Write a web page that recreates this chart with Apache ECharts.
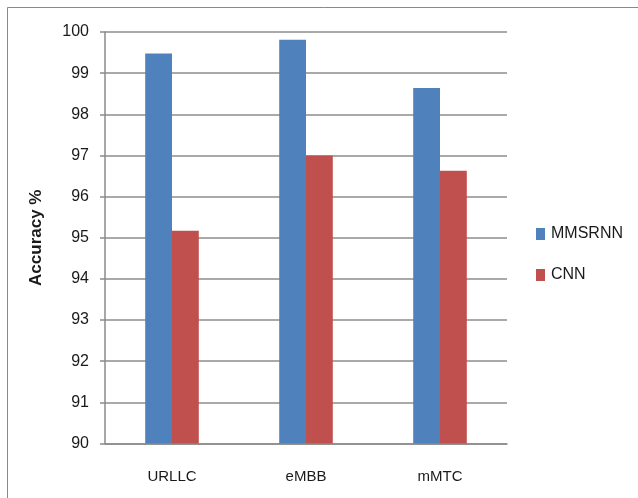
<!DOCTYPE html>
<html>
<head>
<meta charset="utf-8">
<script src="https://cdn.jsdelivr.net/npm/echarts@6/dist/echarts.min.js"></script>
<style>
  html, body { margin: 0; padding: 0; background: #fff; }
  #chart { width: 638px; height: 498px; }
</style>
</head>
<body>
<div id="chart"></div>
<script>
// Slice types and classification accuracy (%) for each model
const categories = ['URLLC', 'eMBB', 'mMTC'];
const mmsrnnAccuracy = [99.48, 99.81, 98.64];
const cnnAccuracy = [95.17, 97.0, 96.63];
const seriesNames = ['MMSRNN', 'CNN'];

const chart = echarts.init(document.getElementById('chart'));
const labelFont = '"Liberation Sans Narrow", "Liberation Sans", sans-serif';

chart.setOption({
  animation: false,
  backgroundColor: '#ffffff',
  color: ['#4F81BD', '#C0504D'],
  graphic: [{
    type: 'rect',
    left: 5, top: 5,
    shape: { width: 640, height: 500 },
    style: { fill: 'none', stroke: '#8a8a8a', lineWidth: 1 }
  }],
  grid: { left: 105, right: 131, top: 32, bottom: 54.5 },
  legend: {
    data: seriesNames,
    orient: 'vertical',
    left: 531, top: 221,
    itemWidth: 9, itemHeight: 12,
    itemGap: 25,
    icon: 'rect',
    textStyle: { fontFamily: labelFont, fontSize: 16, color: '#1a1a1a', padding: [0, 0, 0, 1] }
  },
  xAxis: {
    type: 'category',
    data: categories,
    axisLine: { lineStyle: { color: '#8a8a8a', width: 1.5 } },
    axisTick: { show: false },
    axisLabel: { fontFamily: labelFont, fontSize: 15, color: '#1a1a1a', margin: 26 }
  },
  yAxis: {
    type: 'value',
    min: 90, max: 100, interval: 1,
    name: 'Accuracy %',
    nameLocation: 'middle',
    nameGap: 60,
    nameTextStyle: { fontFamily: '"Liberation Sans", sans-serif', fontSize: 17, fontWeight: 'bold', color: '#1a1a1a' },
    axisLine: { show: true, lineStyle: { color: '#8a8a8a', width: 1.5 } },
    axisTick: { show: true, length: 5, lineStyle: { color: '#8a8a8a', width: 1.5 } },
    splitLine: { lineStyle: { color: '#8c8c8c', width: 1.5 } },
    axisLabel: { fontFamily: labelFont, fontSize: 16, color: '#1a1a1a', margin: 16 }
  },
  series: [
    {
      name: seriesNames[0],
      type: 'bar',
      data: mmsrnnAccuracy,
      barGap: '0%',
      barCategoryGap: '60%'
    },
    {
      name: seriesNames[1],
      type: 'bar',
      data: cnnAccuracy,
      barGap: '0%',
      barCategoryGap: '60%'
    }
  ]
});
</script>
</body>
</html>
